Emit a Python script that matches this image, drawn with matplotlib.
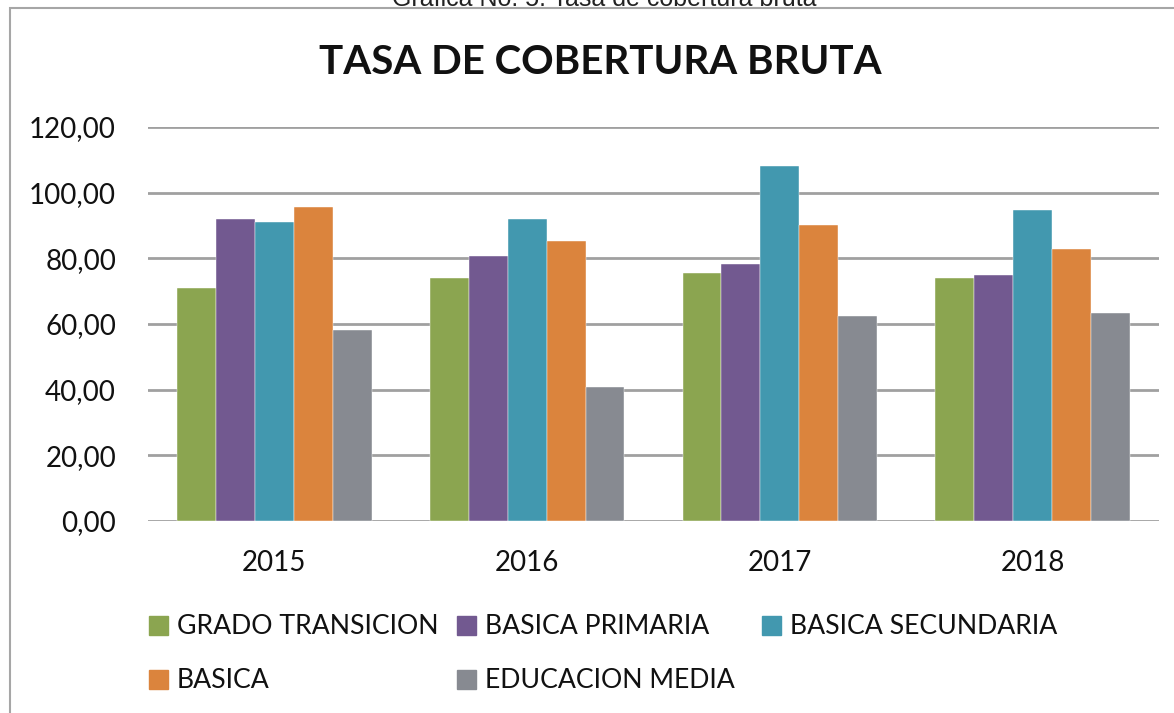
import matplotlib
matplotlib.use("Agg")
import matplotlib.pyplot as plt
import numpy as np
from matplotlib.patches import Rectangle, Patch

years = ["2015", "2016", "2017", "2018"]
series_names = ["GRADO TRANSICION", "BASICA PRIMARIA", "BASICA SECUNDARIA", "BASICA", "EDUCACION MEDIA"]
grado_transicion = [71.0, 73.9, 75.5, 74.1]
basica_primaria = [92.0, 80.8, 78.3, 74.9]
basica_secundaria = [91.1, 91.9, 108.2, 94.7]
basica = [95.7, 85.3, 90.1, 82.9]
educacion_media = [58.1, 40.8, 62.5, 63.3]
yticks = [0, 20, 40, 60, 80, 100, 120]
ytick_labels = ["0,00", "20,00", "40,00", "60,00", "80,00", "100,00", "120,00"]

colors = ["#8BA550", "#725990", "#4298AF", "#DB843D", "#878A91"]
all_series = [grado_transicion, basica_primaria, basica_secundaria, basica, educacion_media]

plt.rcParams['font.family'] = ['Lato', 'DejaVu Sans']

fig = plt.figure(figsize=(11.74, 7.13), dpi=100)
W, H = 1174, 713

# outer chart frame
fig.patches.append(Rectangle((10 / W, -0.1), 1.2, (1 - 8 / H) + 0.1, transform=fig.transFigure,
                             fill=False, edgecolor="#A6A6A6", linewidth=1.5))
fig.text(604 / W, 1 - 6 / H, "Grafica No. 5: Tasa de cobertura bruta", ha="center", va="baseline",
         fontsize=18, family="Liberation Sans", color="#222222")

ax = fig.add_axes([148 / W, 1 - 521 / H, (1159 - 148) / W, (521 - 127) / H])
x = np.arange(len(years))
bw = 0.154
handles = []
for i, (vals, c, name) in enumerate(zip(all_series, colors, series_names)):
    ax.bar(x + (i - 2) * bw, vals, width=bw, color=c, label=name, zorder=3,
           edgecolor="white", linewidth=0.3)
    handles.append(Patch(facecolor=c, edgecolor=c, label=name))

ax.set_xlim(-0.5, len(years) - 0.5)
ax.set_ylim(0, 120)
ax.set_yticks(yticks)
ax.set_yticklabels(ytick_labels)
ax.set_xticks(x)
ax.set_xticklabels(years)
ax.grid(axis="y", color="#A0A0A0", linewidth=2, zorder=0)
for s in ax.spines.values():
    s.set_visible(False)
ax.tick_params(axis="both", length=0, labelsize=20, colors="#111111")
ax.tick_params(axis="y", pad=23)
ax.tick_params(axis="x", pad=21)

fig.text(600 / W, 1 - 62 / H, "TASA DE COBERTURA BRUTA", ha="center", va="center",
         fontsize=29, fontweight="bold", color="#111111")

# legend entries placed in Excel-like fixed grid
positions = [(149, 627), (457, 627), (762, 627), (149, 681), (457, 681)]
for h, (px, py) in zip(handles, positions):
    fig.legend(handles=[h], loc="center left", bbox_to_anchor=(px / W, 1 - py / H),
               frameon=False, fontsize=19.2, handlelength=0.7, handleheight=0.7,
               handletextpad=0.35, borderpad=0, borderaxespad=0, labelcolor="#111111")

fig.savefig("out.png", dpi=100)
